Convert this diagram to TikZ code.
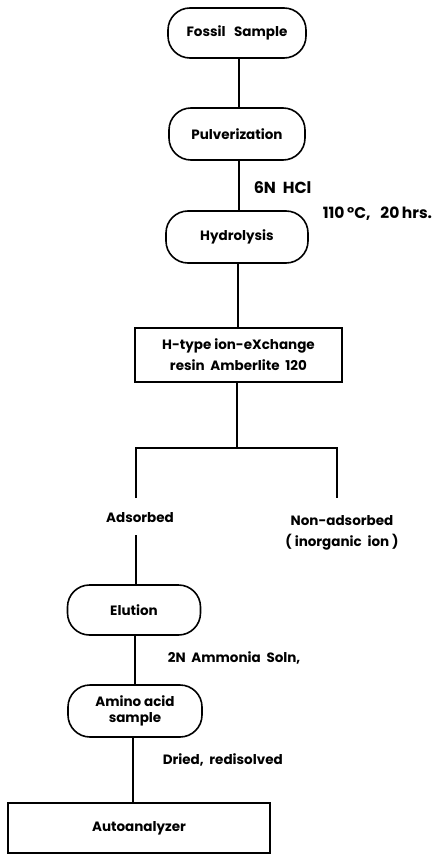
\documentclass[tikz,border=0pt]{standalone}
\usepackage{fontspec}
\setmainfont{Poppins}
\begin{document}
\begin{tikzpicture}[x=1pt,y=-1pt,
  line width=1.6pt,
  txt/.style={font=\bfseries\fontsize{13.5}{16}\selectfont},
  pill/.style={draw, rounded corners=22pt, inner sep=0pt, txt, align=center},
  boxr/.style={draw, inner sep=0pt, txt, align=center},
  lbl/.style={txt, inner sep=0pt, anchor=west},
  clbl/.style={txt, inner sep=0pt, align=center}]
\useasboundingbox (0,0) rectangle (439,856);
\node[pill, minimum width=138pt, minimum height=50pt] (fossil) at (237,33) {Fossil\ \ \ Sample};
\node[pill, minimum width=136pt, minimum height=52pt] (pulv) at (237,134) {Pulverization};
\node[pill, minimum width=142pt, minimum height=52pt] (hydro) at (237,237) {Hydrolysis};
\node[boxr, minimum width=207pt, minimum height=54pt, font=\bfseries\fontsize{13.5}{21}\selectfont] (resin) at (238.5,355) {H-type\ ion-eXchange\\resin\ \ Amberlite\ \ 120};
\coordinate (mid) at (237,448);
\coordinate (lt) at (136,448);
\coordinate (rt) at (337,448);
\coordinate (le) at (136,498);
\coordinate (re) at (337,498);
\node[clbl] (ads) at (140,518) {Adsorbed};
\node[clbl, font=\bfseries\fontsize{13.5}{21}\selectfont] (nonads) at (342,533) {Non-adsorbed\\(\ inorganic\ \ ion\ )};
\coordinate (adsb) at (136,535);
\node[pill, minimum width=133pt, minimum height=50pt] (elu) at (134,610) {Elution};
\node[pill, minimum width=134pt, minimum height=52pt] (amino) at (135,711) {Amino acid\\sample};
\node[boxr, minimum width=262pt, minimum height=50pt] (auto) at (139,828) {Autoanalyzer};
\node[lbl, font=\bfseries\fontsize{16}{18}\selectfont] (hcl) at (253,188) {6N\ \ HCl};
\node[lbl, font=\bfseries\fontsize{15.5}{17}\selectfont] (temp) at (322,214) {110\,°C,\ \ \ 20\,hrs.};
\node[lbl] (amm) at (167,658) {2N\ \ Ammonia\ \ Soln,};
\node[lbl] (dried) at (162,760) {Dried,\ \ redisolved};
\draw (fossil.south -| 239,0) -- (pulv.north -| 239,0);
\draw (pulv.south -| 239,0) -- (hydro.north -| 239,0);
\draw (hydro.south -| 238,0) -- (resin.north -| 238,0);
\draw (resin.south -| mid) -- (mid);
\draw (le) -- (lt) -- (rt) -- (re);
\draw (adsb) -- (elu.north -| adsb);
\draw (elu.south -| 135,0) -- (amino.north -| 135,0);
\draw (amino.south -| 133,0) -- (auto.north -| 133,0);
\end{tikzpicture}
\end{document}
